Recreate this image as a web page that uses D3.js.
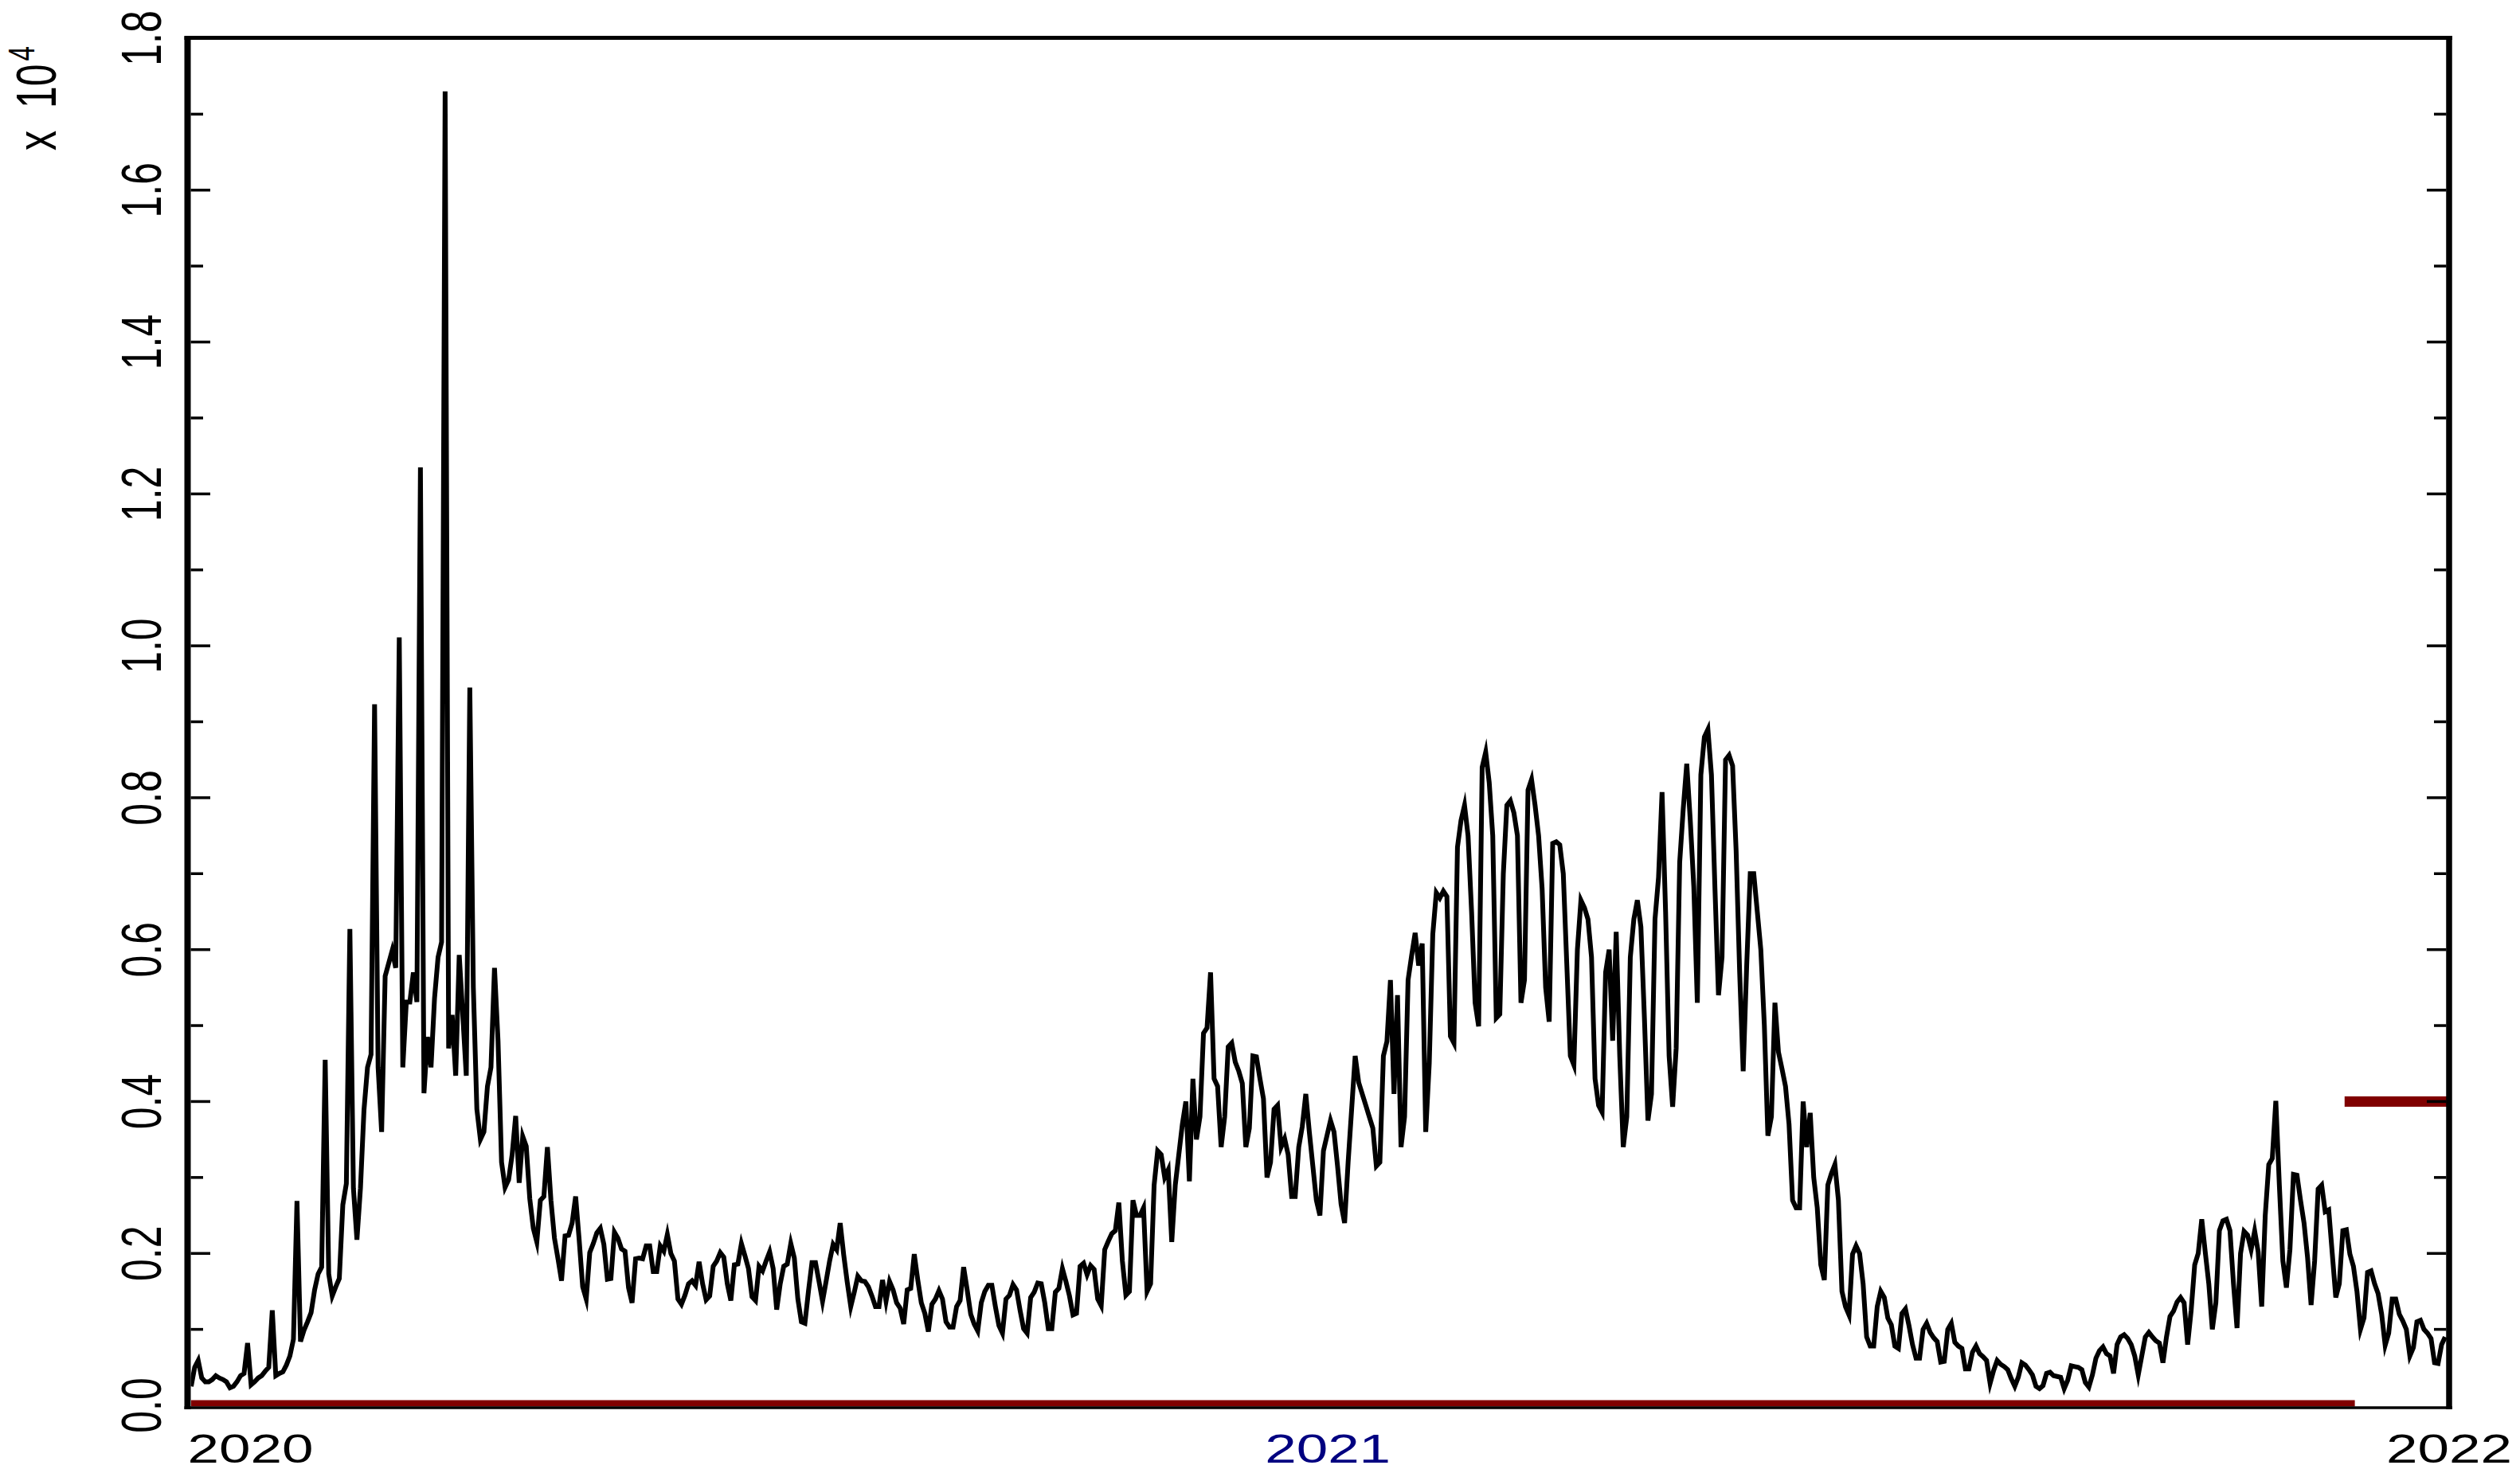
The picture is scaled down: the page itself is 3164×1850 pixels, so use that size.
<!DOCTYPE html>
<html><head><meta charset="utf-8">
<script src="https://cdn.jsdelivr.net/npm/d3@7"></script>
<style>html,body{margin:0;padding:0;background:#fff;} svg{display:block}</style>
</head><body>
<script>
// Daily series (raw counts)
const values = [
250,500,590,360,310,310,340,390,360,340,
310,230,250,310,390,420,820,270,310,360,
390,450,500,1250,390,420,440,530,650,870,
2690,840,990,1100,1220,1520,1730,1820,4550,1730,
1440,1560,1670,2640,2920,6270,2860,2180,2860,3890,
4450,4620,9230,4450,3600,5650,5820,5990,5760,10110,
4450,5310,5310,5700,5310,12350,4110,4850,4450,5360,
5900,6100,17300,4700,5140,4340,5930,5140,4340,9450,
5500,3900,3500,3600,4200,4450,5760,4800,3200,2870,
2970,3300,3810,2930,3540,3410,2720,2330,2150,2700,
2750,3400,2700,2200,1930,1640,2230,2240,2400,2750,
2180,1560,1400,2010,2130,2270,2330,2120,1660,1670,
2280,2200,2060,2030,1550,1350,1930,1940,1930,2100,
2100,1760,1760,2100,2030,2250,2000,1900,1400,1330,
1450,1600,1640,1580,1890,1600,1390,1440,1830,1900,
2010,1950,1600,1380,1850,1860,2130,1970,1800,1430,
1380,1830,1770,1900,2020,1800,1260,1600,1830,1860,
2130,1940,1400,1100,1080,1500,1880,1880,1630,1370,
1630,1900,2120,2050,2400,1980,1620,1300,1490,1700,
1640,1630,1560,1440,1300,1300,1650,1370,1630,1520,
1350,1280,1070,1520,1540,1990,1650,1350,1210,970,
1330,1400,1510,1400,1100,1030,1030,1300,1380,1820,
1520,1200,1070,980,1350,1500,1580,1580,1300,1050,
950,1400,1450,1590,1520,1250,1010,950,1420,1490,
1610,1600,1350,1010,1010,1490,1540,1800,1630,1440,
1190,1210,1830,1870,1720,1840,1790,1400,1310,2050,
2160,2260,2300,2670,1900,1450,1500,2700,2500,2500,
2600,1500,1600,2900,3350,3300,3000,3100,2150,2900,
3300,3700,4000,2950,4300,3500,3800,4900,4970,5700,
4300,4200,3400,3800,4720,4770,4520,4400,4240,3400,
3650,4600,4590,4300,4036,3000,3200,3900,3950,3400,
3510,3300,2750,2750,3400,3670,4100,3600,3150,2700,
2500,3350,3550,3750,3600,3150,2650,2400,3200,3900,
4600,4250,4100,3950,3800,3650,3150,3200,4600,4790,
5600,4100,5400,3400,3800,5600,5920,6220,5790,6080,
3600,4500,6200,6750,6680,6770,6700,4860,4770,7350,
7700,7900,7500,6500,5300,4990,8400,8600,8200,7500,
5100,5150,7000,7900,7960,7800,7500,5300,5600,8100,
8240,7900,7500,6800,5500,5050,7400,7420,7380,7000,
5800,4600,4480,6000,6650,6550,6400,5900,4300,3950,
3860,5700,6000,4800,6234,4600,3400,3800,5900,6400,
6650,6300,5100,3750,4100,6400,6950,8073,6500,4600,
3930,4700,7150,7850,8447,7700,6830,5300,8300,8800,
8900,8300,6800,5400,5900,8500,8560,8420,7300,5700,
4400,5800,7000,7000,6500,6000,5000,3550,3800,5300,
4650,4430,4200,3700,2700,2600,2600,4000,3400,3850,
3000,2600,1850,1650,2900,3050,3170,2700,1500,1300,
1190,1990,2100,2000,1600,900,780,780,1300,1500,
1420,1150,1060,780,750,1210,1270,1050,800,620,
620,1000,1080,960,890,840,570,580,1000,1080,
830,780,750,480,480,700,780,680,640,590,
290,460,590,540,510,470,350,250,370,560,
530,470,400,250,220,260,420,435,390,380,
370,220,330,520,510,500,470,300,240,400,
620,720,770,680,650,420,800,900,930,880,
800,650,400,650,900,960,900,850,820,560,
900,1170,1240,1360,1420,1350,800,1250,1850,2000,
2450,2015,1600,1000,1350,2300,2430,2450,2300,1600,
1018,2000,2290,2240,2050,2295,2020,1300,2500,3169,
3250,4008,2900,1900,1550,2050,3040,3029,2700,2400,
1944,1320,1900,2850,2900,2550,2574,2000,1420,1600,
2300,2312,1990,1830,1500,1000,1150,1750,1770,1600,
1470,1200,790,950,1400,1400,1200,1110,1000,650,
760,1100,1120,1000,950,880,560,550,800,900
];
// Threshold line (red): index ranges and level
const thresholdFrom = [0, 610.5];
const thresholdTo = [613.4, 640];
const thresholdLevel = [0, 4000];
// Axis ticks
const yMajorTicks = [0,2000,4000,6000,8000,10000,12000,14000,16000,18000];
const yMinorTicks = [1000,3000,5000,7000,9000,11000,13000,15000,17000];
const xTickDates = ["2020-01-01","2021-01-01","2022-01-01"];
const xTickLabels = ["2020","2021","2022"];
const yExponentText = "x 10";
const yExponentPower = "4";

const W = 3164, H = 1850;
const L = 235.5, R = 3075, T = 47.5, B = 1765;
const SX = 1.42; // horizontal stretch of glyphs
const FONT = "'Liberation Sans', Arial, sans-serif";

const svg = d3.select("body").append("svg").attr("width", W).attr("height", H)
  .style("background", "#fff");

const x = d3.scaleLinear().domain([0, values.length - 1]).range([240, 3070]);
const y = d3.scaleLinear().domain([0, 18000]).range([B, 48]);
const t = d3.scaleUtc().domain([new Date(Date.UTC(2020,0,1)), new Date(Date.UTC(2022,0,1))]).range([L, R]);

svg.append("defs").append("clipPath").attr("id", "plotclip")
  .append("rect").attr("x", L + 4).attr("y", T).attr("width", R - L - 7).attr("height", B - T + 1.5);

const g = svg.append("g").attr("clip-path", "url(#plotclip)");

// red threshold segments
const thr = thresholdFrom.map((f, i) => ({ from: f, to: thresholdTo[i], v: thresholdLevel[i] }));
g.selectAll("line.thr").data(thr).join("line").attr("class", "thr")
  .attr("x1", d => x(d.from)).attr("x2", d => x(d.to))
  .attr("y1", d => y(d.v)).attr("y2", d => y(d.v))
  .attr("stroke", "#800000").attr("stroke-width", 13);

// black series line
const line = d3.line().x((d, i) => x(i)).y(d => y(d));
g.append("path").datum(values).attr("d", line)
  .attr("fill", "none").attr("stroke", "#000").attr("stroke-width", 6)
  .attr("stroke-linejoin", "miter").attr("stroke-miterlimit", 6);

// frame
const frame = svg.append("g").attr("stroke", "#000");
frame.append("line").attr("x1", L - 4).attr("x2", R + 4).attr("y1", T).attr("y2", T).attr("stroke-width", 5);
frame.append("line").attr("x1", L - 4).attr("x2", R + 4).attr("y1", B + 3).attr("y2", B + 3).attr("stroke-width", 3.5);
frame.append("line").attr("x1", L).attr("x2", L).attr("y1", T - 2).attr("y2", B + 5).attr("stroke-width", 8);
frame.append("line").attr("x1", R).attr("x2", R).attr("y1", T - 2).attr("y2", B + 5).attr("stroke-width", 7.5);

// ticks
const tk = svg.append("g").attr("stroke", "#000").attr("stroke-width", 3.5);
const innerMajor = yMajorTicks.filter(v => v > 0 && v < 18000);
tk.selectAll("line.lmaj").data(innerMajor).join("line").attr("class", "lmaj")
  .attr("x1", L + 4).attr("x2", L + 28.5).attr("y1", d => y(d)).attr("y2", d => y(d));
tk.selectAll("line.lmin").data(yMinorTicks).join("line").attr("class", "lmin")
  .attr("x1", L + 4).attr("x2", L + 19.5).attr("y1", d => y(d)).attr("y2", d => y(d));
tk.selectAll("line.rmaj").data(innerMajor).join("line").attr("class", "rmaj")
  .attr("x1", R - 3.5).attr("x2", R - 28).attr("y1", d => y(d)).attr("y2", d => y(d));
tk.selectAll("line.rmin").data(yMinorTicks).join("line").attr("class", "rmin")
  .attr("x1", R - 3.5).attr("x2", R - 19).attr("y1", d => y(d)).attr("y2", d => y(d));

// y tick labels (rotated)
svg.append("g").selectAll("text").data(yMajorTicks).join("text")
  .attr("transform", d => `translate(202,${y(d)}) scale(${SX},1) rotate(-90)`)
  .attr("text-anchor", "middle")
  .style("font-family", FONT).style("font-size", "50px").attr("fill", "#000")
  .text(d => (d / 10000).toFixed(1));

// exponent label
const ex = svg.append("text")
  .attr("transform", `translate(70,189) scale(${SX},1) rotate(-90)`)
  .attr("text-anchor", "start")
  .style("font-family", FONT).style("font-size", "50px").attr("fill", "#000");
ex.append("tspan").text(yExponentText.split(" ")[0]);
ex.append("tspan").attr("dx", 14).text(" " + yExponentText.split(" ")[1]);
ex.append("tspan").attr("dy", -19).attr("dx", 4).style("font-size", "33px").text(yExponentPower);

// x tick labels
const parse = d3.utcParse("%Y-%m-%d");
svg.append("g").selectAll("text").data(xTickDates).join("text")
  .attr("transform", d => `translate(${t(parse(d))},1837) scale(${SX},1)`)
  .attr("text-anchor", (d, i) => i === 0 ? "start" : "middle")
  .attr("dx", (d, i) => i === 1 ? 7 : 0)
  .attr("fill", (d, i) => i === 1 ? "#000080" : "#000")
  .style("font-family", FONT).style("font-size", "50px")
  .text((d, i) => xTickLabels[i]);
</script>
</body></html>
